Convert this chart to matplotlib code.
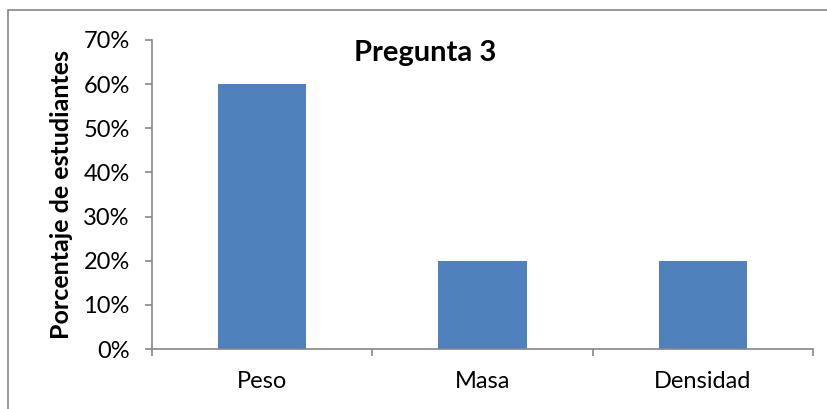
import matplotlib
matplotlib.use("Agg")
import matplotlib.pyplot as plt
from matplotlib.patches import Rectangle
from matplotlib.ticker import FuncFormatter

categories = ["Peso", "Masa", "Densidad"]
values = [0.60, 0.20, 0.20]
yticks = [0.0, 0.1, 0.2, 0.3, 0.4, 0.5, 0.6, 0.7]

plt.rcParams["font.family"] = ["Lato", "DejaVu Sans"]

W, H = 827, 409
fig = plt.figure(figsize=(W / 100, H / 100), dpi=100)

# outer chart-area frame (left and top edges visible)
fig.patches.append(Rectangle((8 / W, -0.1), 1.2, (H - 10) / H + 0.1,
                             transform=fig.transFigure, fill=False,
                             edgecolor="#868686", linewidth=1.2))

ax = fig.add_axes([152 / W, 1 - 349 / H, (813 - 152) / W, (349 - 40) / H])
x = range(len(categories))
ax.bar(x, values, width=0.4, color="#4F81BD")
ax.set_xlim(-0.5, len(categories) - 0.5)
ax.set_ylim(0, 0.7)
ax.set_yticks(yticks)
ax.yaxis.set_major_formatter(FuncFormatter(lambda v, _: f"{v*100:.0f}%"))
ax.set_xticks(list(x))
ax.set_xticklabels(categories)
ax.set_xticks([i - 0.5 for i in range(len(categories) + 1)], minor=True)

for s in ["top", "right"]:
    ax.spines[s].set_visible(False)
for s in ["left", "bottom"]:
    ax.spines[s].set_color("#868686")
    ax.spines[s].set_linewidth(1.2)

ax.tick_params(axis="y", colors="#868686", labelcolor="black", labelsize=17,
               length=5, width=1.2, pad=11)
ax.tick_params(axis="x", which="major", length=0, labelsize=17, pad=16)
ax.tick_params(axis="x", which="minor", colors="#868686", length=5, width=1.2)

ax.set_ylabel("Porcentaje de estudiantes", fontsize=18, fontweight="bold")
ax.yaxis.set_label_coords(-0.12, 0.5)

fig.text(425 / W, 1 - 53 / H, "Pregunta 3", ha="center", va="center",
         fontsize=21, fontweight="bold")

fig.savefig("out.png", dpi=100)
